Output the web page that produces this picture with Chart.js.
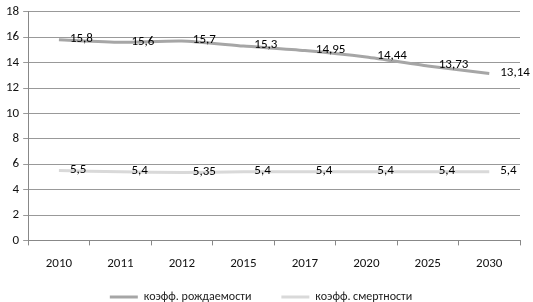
<!DOCTYPE html>
<html>
<head>
<meta charset="utf-8">
<script src="https://cdn.jsdelivr.net/npm/chart.js@4"></script>
<style>
  html, body { margin: 0; padding: 0; background: #fff; }
  #wrap { width: 533px; height: 302px; position: relative; }
</style>
</head>
<body>
<div id="wrap"><canvas id="chart"></canvas></div>
<script>
const years = ['2010', '2011', '2012', '2015', '2017', '2020', '2025', '2030'];
const birthRate = [15.8, 15.6, 15.7, 15.3, 14.95, 14.44, 13.73, 13.14];
const deathRate = [5.5, 5.4, 5.35, 5.4, 5.4, 5.4, 5.4, 5.4];
const seriesNames = ['коэфф. рождаемости', 'коэфф. смертности'];

const fontFamily = 'Carlito, Calibri, "Open Sans", "DejaVu Sans", sans-serif';

// draw value labels to the right of each point
const valueLabels = {
    id: 'valueLabels',
    afterDatasetsDraw(chart) {
        const ctx = chart.ctx;
        ctx.save();
        ctx.font = '13px ' + fontFamily;
        ctx.fillStyle = '#000';
        ctx.textAlign = 'left';
        ctx.textBaseline = 'middle';
        chart.data.datasets.forEach((ds, i) => {
            const meta = chart.getDatasetMeta(i);
            meta.data.forEach((pt, j) => {
                const txt = String(ds.data[j]).replace('.', ',');
                ctx.fillText(txt, pt.x + 11, pt.y - 1);
            });
        });
        ctx.restore();
    }
};

// keep the legend short but with a wide gap between its items
const legendSize = {
    id: 'legendSize',
    afterInit(chart) {
        const lg = chart.legend;
        const fit = lg.fit;
        lg.fit = function () {
            fit.call(this);
            this.height = 19;
        };
        const draw = lg.draw;
        lg.draw = function () {
            const t = this.top;
            this.top = t - 22;
            draw.call(this);
            this.top = t;
        };
    }
};

new Chart(document.getElementById('chart'), {
    type: 'line',
    data: {
        labels: years,
        datasets: [
            {
                label: seriesNames[0],
                data: birthRate,
                borderColor: '#a6a6a6',
                backgroundColor: '#a6a6a6',
                borderWidth: 3,
                pointRadius: 0,
                tension: 0.2
            },
            {
                label: seriesNames[1],
                data: deathRate,
                borderColor: '#d9d9d9',
                backgroundColor: '#d9d9d9',
                borderWidth: 3,
                pointRadius: 0,
                tension: 0.2
            }
        ]
    },
    options: {
        responsive: true,
        maintainAspectRatio: false,
        animation: false,
        layout: { padding: { top: 5, right: 13, left: 2, bottom: 0 } },
        plugins: {
            tooltip: { enabled: false },
            legend: {
                position: 'bottom',
                labels: {
                    usePointStyle: true,
                    pointStyle: 'line',
                    pointStyleWidth: 28,
                    boxHeight: 3,
                    color: '#222',
                    padding: 30,
                    font: { size: 12, family: fontFamily }
                }
            }
        },
        scales: {
            x: {
                offset: true,
                grid: {
                    display: true,
                    offset: true,
                    drawOnChartArea: false,
                    drawTicks: true,
                    tickLength: 5,
                    color: '#888'
                },
                border: { color: '#888' },
                ticks: {
                    color: '#111',
                    padding: 11,
                    font: { size: 13, family: fontFamily }
                }
            },
            y: {
                min: 0,
                max: 18,
                ticks: {
                    stepSize: 2,
                    color: '#111',
                    padding: 4,
                    font: { size: 13, family: fontFamily }
                },
                grid: {
                    color: '#999',
                    tickLength: 5
                },
                border: { color: '#888' }
            }
        }
    },
    plugins: [valueLabels, legendSize]
});
</script>
</body>
</html>
